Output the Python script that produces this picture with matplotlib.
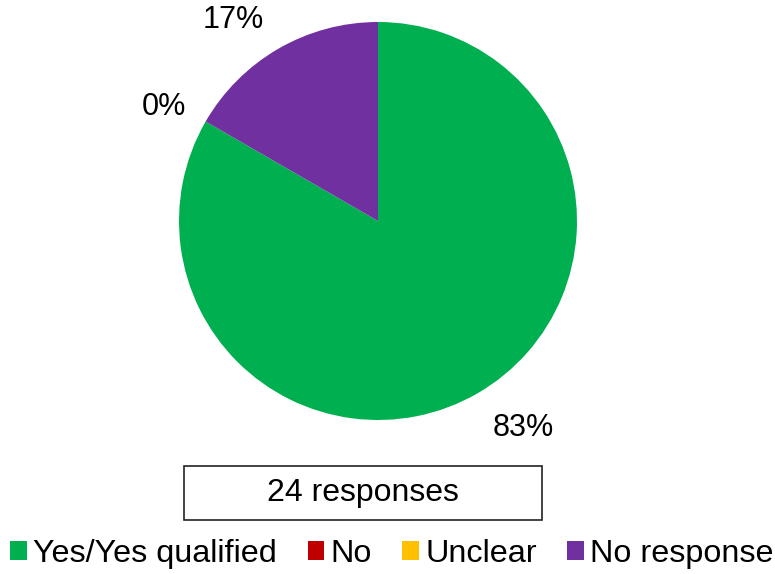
import matplotlib
matplotlib.use("Agg")
import matplotlib.pyplot as plt
from matplotlib.patches import Rectangle, Patch
from matplotlib import font_manager
import numpy as np

categories = ["Yes/Yes qualified", "No", "Unclear", "No response"]
counts = [20, 0, 0, 4]
colors = ["#00B050", "#C00000", "#FFC000", "#7030A0"]
total_label = "24 responses"

# label placement (angle in degrees, distance in radii) for each slice
label_pos = [(-54.8, 1.27), None, (151.9, 1.219), (125.8, 1.245)]

names = {f.name for f in font_manager.fontManager.ttflist}
main_font = "Liberation Sans" if "Liberation Sans" in names else "DejaVu Sans"

W, H = 775, 574
fig = plt.figure(figsize=(W / 100, H / 100), dpi=100)

cx, cy, r = 378, 221, 199
ax = fig.add_axes([(cx - r) / W, (H - cy - r) / H, 2 * r / W, 2 * r / H])
ax.pie(counts, colors=colors, startangle=90, counterclock=False,
       radius=1.0, wedgeprops=dict(linewidth=0))
ax.set_xlim(-1, 1)
ax.set_ylim(-1, 1)
ax.set_aspect("equal")
ax.axis("off")

tot = sum(counts)
for val, pos in zip(counts, label_pos):
    if pos is None:
        continue
    ang, dist = pos
    x = dist * np.cos(np.radians(ang))
    y = dist * np.sin(np.radians(ang))
    ax.text(x, y, f"{round(100 * val / tot)}%", ha="center", va="center",
            fontsize=22, family=main_font, clip_on=False)

# response count box
bx0, bx1, by0, by1 = 184, 542, 466, 520
fig.patches.append(Rectangle((bx0 / W, (H - by1) / H), (bx1 - bx0) / W, (by1 - by0) / H,
                             transform=fig.transFigure, facecolor="white",
                             edgecolor="#222222", linewidth=1.2))
fig.text((bx0 + bx1) / 2 / W, (H - (by0 + by1) / 2) / H, total_label,
         ha="center", va="center", fontsize=23, family=main_font)

handles = [Patch(facecolor=c, edgecolor="none") for c in colors]
leg = fig.legend(handles, categories, loc="center", bbox_to_anchor=(392 / W, (H - 554) / H),
                 ncol=4, frameon=False, handlelength=0.5, handleheight=0.5,
                 handletextpad=0.2, columnspacing=0.95, borderaxespad=0,
                 borderpad=0, prop=dict(family=main_font, size=23.3))

fig.savefig("out.png", dpi=100)
